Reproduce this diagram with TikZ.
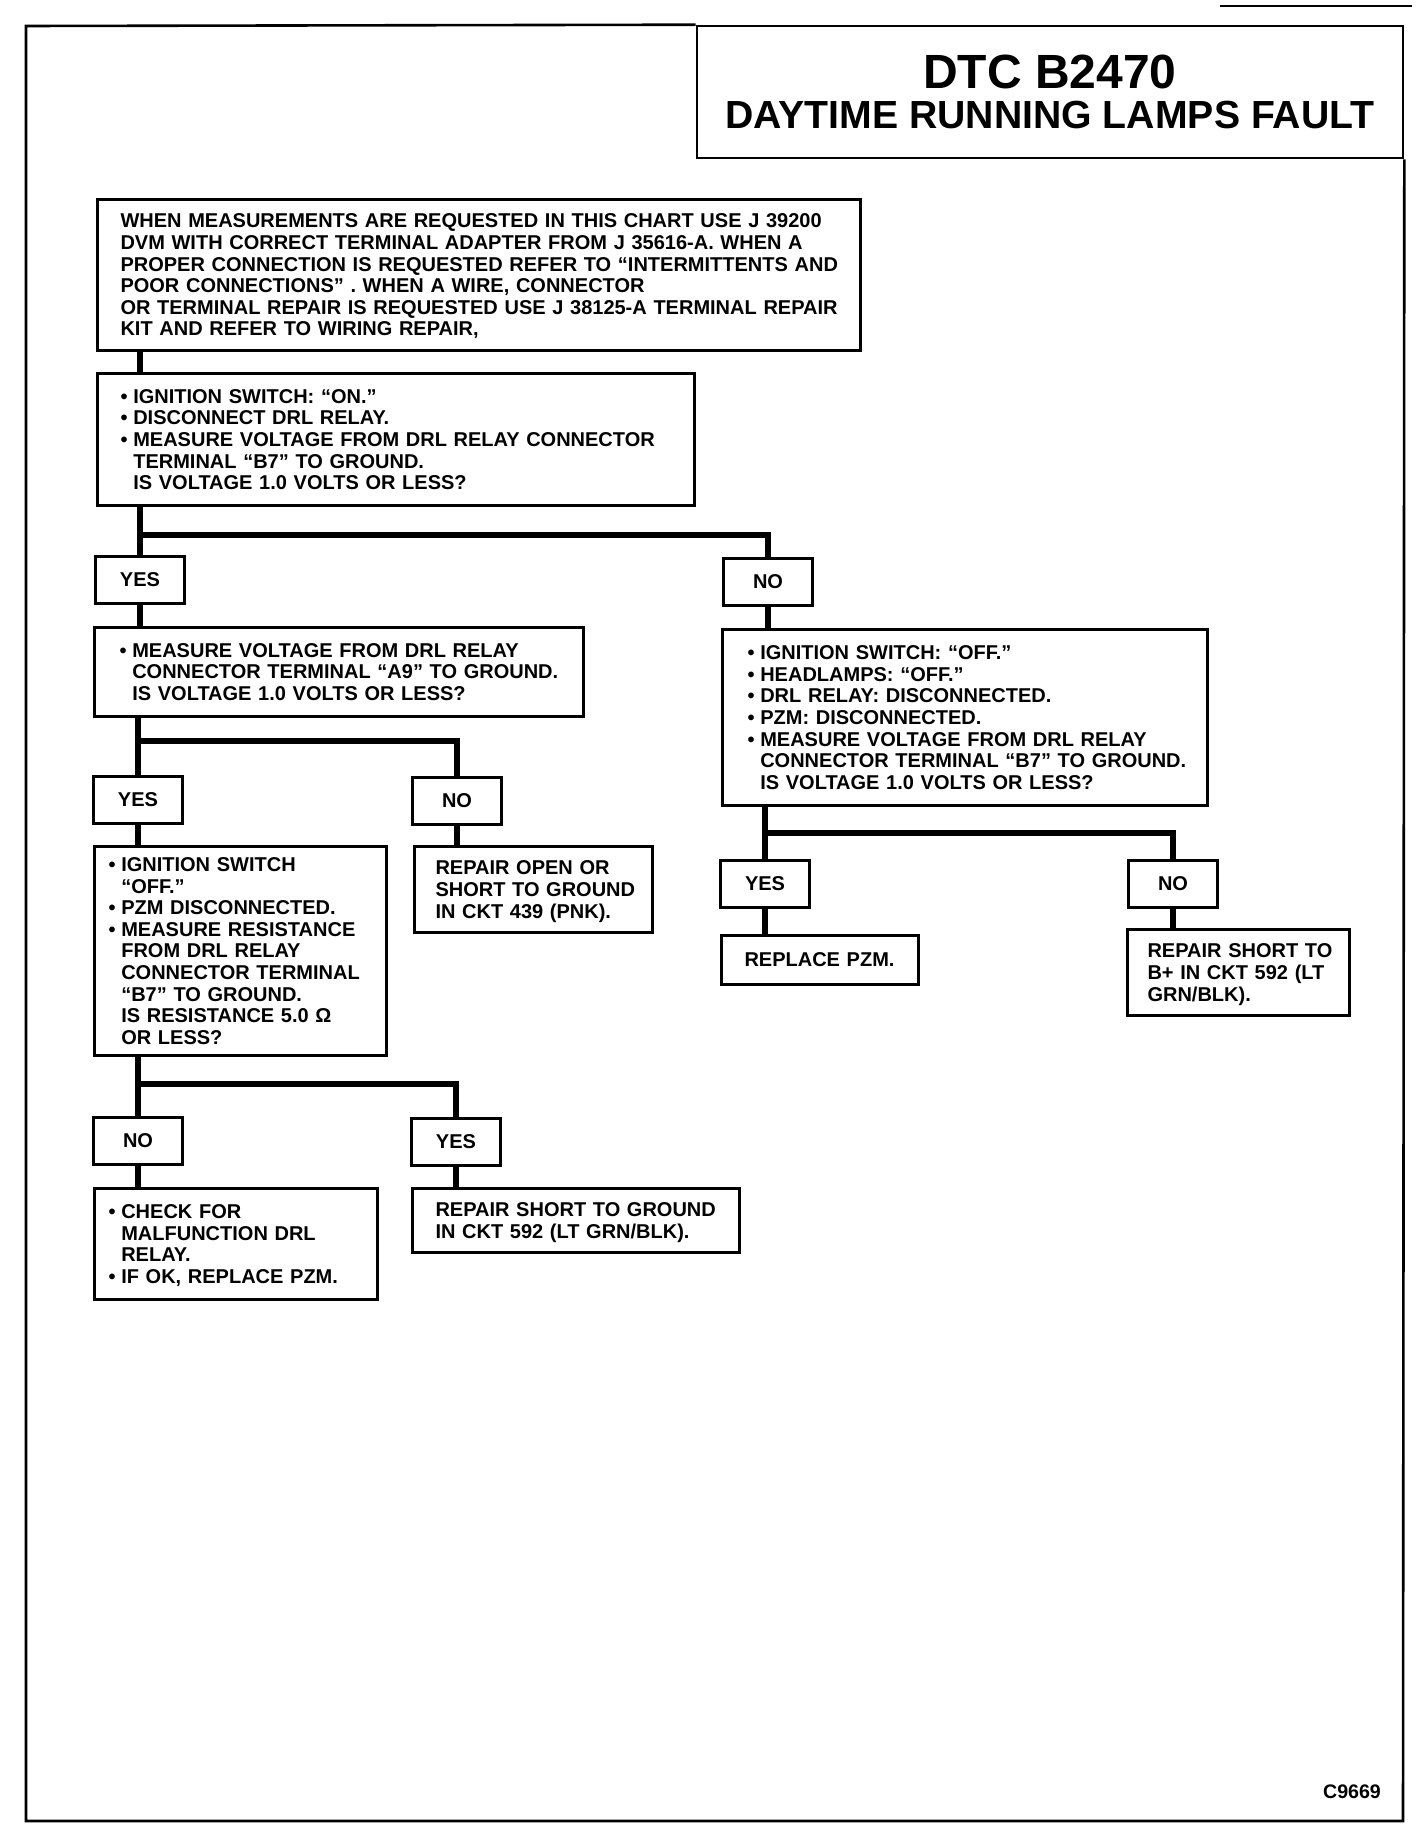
\documentclass[tikz,border=0pt]{standalone}
\usepackage{fontspec}
\setmainfont{Liberation Sans}
\newcommand{\drlbul}{\makebox[6.4pt][l]{\textbullet}}
\newcommand{\drlind}{\hspace*{6.4pt}}
\newcommand{\drltext}[1]{\noindent\raisebox{-1.3pt}[\height][\depth]{\begin{tabular}{@{}l@{}}#1\end{tabular}}}

\begin{document}
\begin{tikzpicture}[x=0.5pt, y=-0.5pt,
    chart/.style={draw, line width=1.5pt, anchor=north west, align=left,
        inner xsep=11.5pt, inner ysep=2pt,
        font=\bfseries\fontsize{10}{10.8}\selectfont},
    answer/.style={draw, line width=1.5pt, minimum width=44.5pt,
        minimum height=23.5pt, inner sep=0pt,
        font=\bfseries\fontsize{10}{10.8}\selectfont},
    link/.style={line width=3pt},
    frame/.style={line width=1.3pt}]
    \useasboundingbox (0,0) rectangle (1424,1830);

    % Page frame and title
    \draw[line width=0.8pt] (1220,6) -- (1412,6);
    \node[draw, frame, minimum width=353pt, minimum height=66pt, align=center,
          font=\bfseries\fontsize{19.6}{20}\selectfont] (title) at (1050,92)
        {{\fontsize{24}{20}\selectfont DTC B2470}\\DAYTIME RUNNING LAMPS FAULT};
    \draw[frame] (title.north west) -- (26,26) -- (26,1821) -- (1403,1821)
        -- (title.south east);
    \node[font=\bfseries\fontsize{9.8}{10}\selectfont] (code) at (1352,1792) {C9669};

    % Question boxes
    \node[chart, text width=358.5pt, minimum height=75.5pt] (intro) at (96,198)
        {\drltext{WHEN MEASUREMENTS ARE REQUESTED IN THIS CHART USE J 39200\\
         DVM WITH CORRECT TERMINAL ADAPTER FROM J 35616-A. WHEN A\\
         PROPER CONNECTION IS REQUESTED REFER TO “INTERMITTENTS AND\\
         POOR CONNECTIONS” . WHEN A WIRE, CONNECTOR\\
         OR TERMINAL REPAIR IS REQUESTED USE J 38125-A TERMINAL REPAIR\\
         KIT AND REFER TO WIRING REPAIR,}};
    \node[chart, text width=275.5pt, minimum height=66pt] (q1) at (96,372)
        {\drltext{\drlbul IGNITION SWITCH: “ON.”\\
         \drlbul DISCONNECT DRL RELAY.\\
         \drlbul MEASURE VOLTAGE FROM DRL RELAY CONNECTOR\\
         \drlind TERMINAL “B7” TO GROUND.\\
         \drlind IS VOLTAGE 1.0 VOLTS OR LESS?}};
    \node[chart, text width=219.5pt, inner xsep=12.5pt, minimum height=44.5pt] (qa9) at (93,626)
        {\drltext{\drlbul MEASURE VOLTAGE FROM DRL RELAY\\
         \drlind CONNECTOR TERMINAL “A9” TO GROUND.\\
         \drlind IS VOLTAGE 1.0 VOLTS OR LESS?}};
    \node[chart, text width=217.5pt, inner xsep=12.5pt, minimum height=88pt] (qoff) at (721,628)
        {\drltext{\drlbul IGNITION SWITCH: “OFF.”\\
         \drlbul HEADLAMPS: “OFF.”\\
         \drlbul DRL RELAY: DISCONNECTED.\\
         \drlbul PZM: DISCONNECTED.\\
         \drlbul MEASURE VOLTAGE FROM DRL RELAY\\
         \drlind CONNECTOR TERMINAL “B7” TO GROUND.\\
         \drlind IS VOLTAGE 1.0 VOLTS OR LESS?}};
    \node[chart, text width=132pt, inner xsep=7pt, minimum height=104.5pt] (qres) at (93,845)
        {\drltext{\drlbul IGNITION SWITCH\\
         \drlind “OFF.”\\
         \drlbul PZM DISCONNECTED.\\
         \drlbul MEASURE RESISTANCE\\
         \drlind FROM DRL RELAY\\
         \drlind CONNECTOR TERMINAL\\
         \drlind “B7” TO GROUND.\\
         \drlind IS RESISTANCE 5.0 Ω\\
         \drlind OR LESS?}};

    % Repair boxes
    \node[chart, text width=98pt, inner xsep=10.5pt, minimum height=43pt] (fopen) at (413,845)
        {\drltext{REPAIR OPEN OR\\SHORT TO GROUND\\IN CKT 439 (PNK).}};
    \node[chart, text width=75.5pt, minimum height=24.5pt] (fpzm) at (720,934)
        {\drltext{REPLACE PZM.}};
    \node[chart, text width=91pt, inner xsep=10pt, minimum height=43pt] (fbplus) at (1126,928)
        {\drltext{REPAIR SHORT TO\\B+ IN CKT 592 (LT\\GRN/BLK).}};
    \node[chart, text width=127.5pt, inner xsep=7pt, minimum height=55.5pt] (fcheck) at (93,1187)
        {\drltext{\drlbul CHECK FOR\\
         \drlind MALFUNCTION DRL\\
         \drlind RELAY.\\
         \drlbul IF OK, REPLACE PZM.}};
    \node[chart, text width=140.5pt, minimum height=32pt] (fgnd) at (411,1187)
        {\drltext{REPAIR SHORT TO GROUND\\IN CKT 592 (LT GRN/BLK).}};

    % Answer boxes
    \foreach \n/\x/\y/\t in {yes1/140/580/YES, no1/768/582/NO,
                             yes2/138/800/YES, no2/457/801/NO,
                             yes3/765/884/YES, no3/1173/884/NO,
                             no4/138/1141/NO, yes4/456/1142/YES} {
        \node[answer] (\n) at (\x,\y) {\t};
    }

    % Branch levels
    \coordinate (j1) at (140,535);
    \coordinate (j2) at (138,741);
    \coordinate (j3) at (765,833);
    \coordinate (j4) at (138,1084);

    % Connectors
    \draw[link] (intro.south -| yes1.north) -- (q1.north -| yes1.north);
    \draw[link] (q1.south -| yes1.north) -- (yes1.north);
    \draw[link] (yes1.north |- j1) -| (no1.north);
    \draw[link] (qa9.south -| yes2.north) -- (yes2.north);
    \draw[link] (yes2.north |- j2) -| (no2.north);
    \draw[link] (qoff.south -| yes3.north) -- (yes3.north);
    \draw[link] (yes3.north |- j3) -| (no3.north);
    \draw[link] (qres.south -| no4.north) -- (no4.north);
    \draw[link] (no4.north |- j4) -| (yes4.north);
    \foreach \a/\b in {yes1/qa9, no1/qoff, yes2/qres, no2/fopen,
                       yes3/fpzm, no3/fbplus, no4/fcheck, yes4/fgnd} {
        \draw[link] (\a.south) -- (\a.south |- \b.north);
    }
\end{tikzpicture}
\end{document}
